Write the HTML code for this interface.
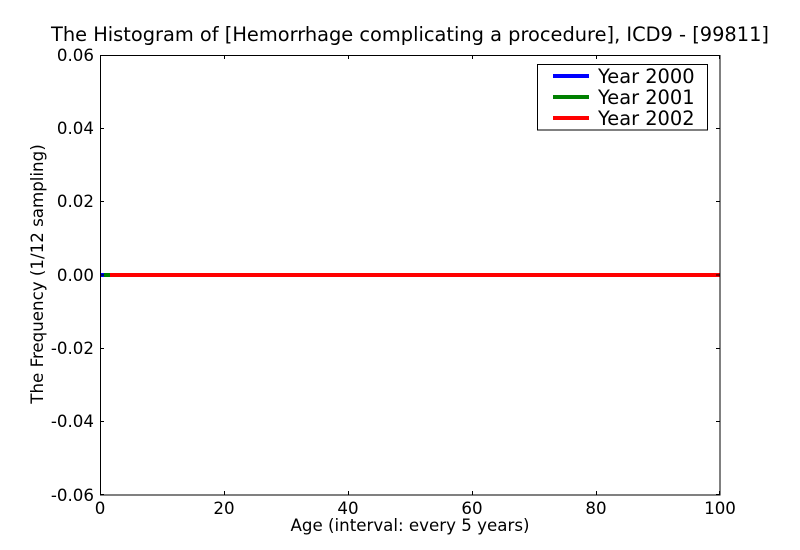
<!DOCTYPE html>
<html>
<head>
<meta charset="utf-8">
<style>
html,body{margin:0;padding:0;background:#fff;}
svg{display:block;}
text{font-family:"DejaVu Sans","Liberation Sans",sans-serif;fill:#000;}
</style>
</head>
<body>
<svg width="800" height="550" viewBox="0 0 800 550" xmlns="http://www.w3.org/2000/svg">
<rect x="0" y="0" width="800" height="550" fill="#fff"/>
<!-- title -->
<text x="410" y="41" font-size="19.4" text-anchor="middle" textLength="718" lengthAdjust="spacingAndGlyphs">The Histogram of [Hemorrhage complicating a procedure], ICD9 - [99811]</text>

<!-- data lines -->
<rect x="100" y="273" width="620" height="4" fill="#ff0000"/>
<rect x="100" y="273" width="4" height="4" fill="#0000ff"/>
<rect x="104" y="273" width="6" height="4" fill="#008000"/>

<!-- axes frame -->
<rect x="100.5" y="55.5" width="619.5" height="439.5" fill="none" stroke="#000" stroke-width="1"/>

<!-- y ticks -->
<g stroke="#000" stroke-width="1">
<line x1="100" y1="55.5" x2="104" y2="55.5"/><line x1="716" y1="55.5" x2="720" y2="55.5"/>
<line x1="100" y1="128.5" x2="104" y2="128.5"/><line x1="716" y1="128.5" x2="720" y2="128.5"/>
<line x1="100" y1="201.5" x2="104" y2="201.5"/><line x1="716" y1="201.5" x2="720" y2="201.5"/>
<line x1="100" y1="275" x2="104" y2="275"/><line x1="716" y1="275" x2="720" y2="275"/>
<line x1="100" y1="348.5" x2="104" y2="348.5"/><line x1="716" y1="348.5" x2="720" y2="348.5"/>
<line x1="100" y1="421.5" x2="104" y2="421.5"/><line x1="716" y1="421.5" x2="720" y2="421.5"/>
<line x1="100" y1="494.5" x2="104" y2="494.5"/><line x1="716" y1="494.5" x2="720" y2="494.5"/>
<!-- x ticks -->
<line x1="100.5" y1="55" x2="100.5" y2="59"/><line x1="100.5" y1="491" x2="100.5" y2="495"/>
<line x1="224.5" y1="55" x2="224.5" y2="59"/><line x1="224.5" y1="491" x2="224.5" y2="495"/>
<line x1="348.5" y1="55" x2="348.5" y2="59"/><line x1="348.5" y1="491" x2="348.5" y2="495"/>
<line x1="472.5" y1="55" x2="472.5" y2="59"/><line x1="472.5" y1="491" x2="472.5" y2="495"/>
<line x1="596.5" y1="55" x2="596.5" y2="59"/><line x1="596.5" y1="491" x2="596.5" y2="495"/>
<line x1="719.5" y1="55" x2="719.5" y2="59"/><line x1="719.5" y1="491" x2="719.5" y2="495"/>
</g>

<!-- y tick labels -->
<g font-size="16.67" text-anchor="end">
<text x="94" y="61">0.06</text>
<text x="94" y="134">0.04</text>
<text x="94" y="207">0.02</text>
<text x="94" y="281">0.00</text>
<text x="94" y="354">-0.02</text>
<text x="94" y="427">-0.04</text>
<text x="94" y="501">-0.06</text>
</g>

<!-- x tick labels -->
<g font-size="16.67" text-anchor="middle">
<text x="100" y="514">0</text>
<text x="224" y="514">20</text>
<text x="348" y="514">40</text>
<text x="472" y="514">60</text>
<text x="596" y="514">80</text>
<text x="720" y="514">100</text>
</g>

<!-- axis labels -->
<text x="410" y="531" font-size="16.67" text-anchor="middle">Age (interval: every 5 years)</text>
<text transform="translate(43,274) rotate(-90)" font-size="16.67" text-anchor="middle">The Frequency (1/12 sampling)</text>

<!-- legend -->
<rect x="537.5" y="64.5" width="170" height="65.5" fill="#fff" stroke="#000" stroke-width="1"/>
<rect x="553" y="74" width="36" height="4" fill="#0000ff"/>
<rect x="553" y="95" width="36" height="4" fill="#008000"/>
<rect x="553" y="116" width="36" height="4" fill="#ff0000"/>
<g font-size="19.4">
<text x="598" y="83">Year 2000</text>
<text x="598" y="104">Year 2001</text>
<text x="598" y="125">Year 2002</text>
</g>
</svg>
</body>
</html>
